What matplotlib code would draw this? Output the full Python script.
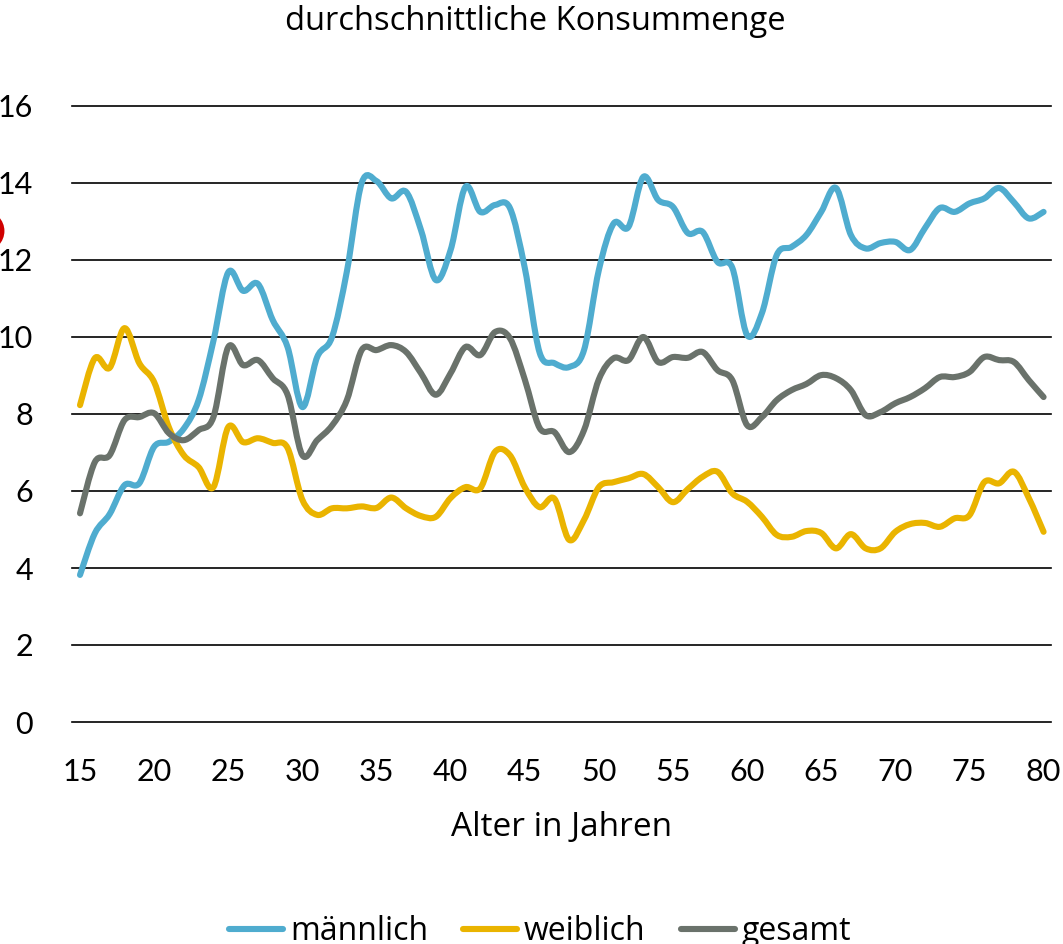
import numpy as np
import matplotlib
matplotlib.use('Agg')
import matplotlib.pyplot as plt
from matplotlib.path import Path
from matplotlib.patches import PathPatch, Ellipse
from matplotlib.lines import Line2D

plt.rcParams['font.family'] = ['Lato', 'DejaVu Sans']
WORT_FONT = ['Open Sans', 'DejaVu Sans']

# Daten: durchschnittliche Konsummenge nach Alter (15-80)
alter = list(range(15, 81))
maennlich = [3.82, 4.9, 5.4, 6.15, 6.2, 7.15, 7.28, 7.62, 8.36, 9.9,
             11.68, 11.2, 11.38, 10.44, 9.74, 8.18, 9.48, 10.0, 11.7, 14.0,
             14.05, 13.6, 13.77, 12.78, 11.48, 12.26, 13.9, 13.25, 13.43, 13.35,
             11.8, 9.6, 9.32, 9.22, 9.66, 11.74, 12.95, 12.86, 14.16, 13.56,
             13.38, 12.7, 12.73, 11.95, 11.8, 10.05, 10.62, 12.13, 12.34, 12.65,
             13.25, 13.87, 12.65, 12.3, 12.44, 12.47, 12.26, 12.83, 13.35, 13.25,
             13.47, 13.6, 13.87, 13.5, 13.08, 13.25]
weiblich = [8.23, 9.45, 9.2, 10.23, 9.32, 8.83, 7.65, 6.93, 6.62, 6.1,
            7.66, 7.27, 7.37, 7.25, 7.12, 5.77, 5.38, 5.55, 5.55, 5.6,
            5.56, 5.83, 5.55, 5.35, 5.33, 5.82, 6.1, 6.07, 7.02, 6.93,
            6.1, 5.58, 5.8, 4.73, 5.25, 6.1, 6.23, 6.33, 6.44, 6.1,
            5.71, 6.05, 6.37, 6.5, 5.94, 5.72, 5.33, 4.86, 4.81, 4.96,
            4.91, 4.51, 4.88, 4.51, 4.51, 4.94, 5.14, 5.17, 5.07, 5.29,
            5.37, 6.23, 6.2, 6.5, 5.82, 4.94]
gesamt = [5.42, 6.75, 6.93, 7.84, 7.92, 8.02, 7.5, 7.32, 7.58, 7.92,
          9.74, 9.27, 9.4, 8.93, 8.5, 6.93, 7.32, 7.7, 8.36, 9.66,
          9.66, 9.79, 9.61, 9.06, 8.5, 9.06, 9.74, 9.53, 10.13, 9.97,
          8.9, 7.64, 7.53, 7.01, 7.58, 8.9, 9.45, 9.4, 10.0, 9.35,
          9.48, 9.46, 9.61, 9.14, 8.88, 7.71, 7.92, 8.36, 8.62, 8.78,
          9.01, 8.93, 8.62, 7.97, 8.05, 8.28, 8.44, 8.67, 8.96, 8.96,
          9.09, 9.48, 9.4, 9.35, 8.88, 8.44]

serien = [('männlich', maennlich, '#4FACCF'),
          ('weiblich', weiblich, '#EAB400'),
          ('gesamt', gesamt, '#6A726B')]


def glatte_linie(x, y):
    # Bezier-Pfad wie Excel "geglättete Linie" (Catmull-Rom Tangenten)
    p = np.column_stack([x, y]).astype(float)
    ext = np.vstack([p[0], p, p[-1]])
    verts = [p[0]]
    codes = [Path.MOVETO]
    for i in range(len(p) - 1):
        c1 = ext[i + 1] + (ext[i + 2] - ext[i]) / 6.0
        c2 = ext[i + 2] - (ext[i + 3] - ext[i + 1]) / 6.0
        verts += [c1, c2, p[i + 1]]
        codes += [Path.CURVE4] * 3
    return Path(verts, codes)


W, H = 1063, 944
fig = plt.figure(figsize=(W / 100, H / 100), dpi=100)
ax = fig.add_axes([72 / W, 1 - 722 / H, (1051 - 72) / W, (722 - 106) / H])

for name, werte, farbe in serien:
    patch = PathPatch(glatte_linie(alter, werte), facecolor='none', edgecolor=farbe,
                      lw=4.4, capstyle='round', joinstyle='round', zorder=3)
    ax.add_patch(patch)

ax.set_xlim(14.46, 80.5)
ax.set_ylim(0, 16)
ax.set_xticks(range(15, 81, 5))
ax.set_yticks(range(0, 17, 2))
ax.tick_params(length=0, labelsize=22, colors='black')
ax.tick_params(axis='y', pad=28)
ax.tick_params(axis='x', pad=26)
for s in ax.spines.values():
    s.set_visible(False)
ax.yaxis.grid(True, color='black', lw=1.2)
for gl in ax.get_ygridlines():
    gl.set_clip_on(False)
ax.set_axisbelow(True)

ax.set_xlabel('Alter in Jahren', fontsize=24, labelpad=18, family=WORT_FONT)
fig.text(535 / W, 1 - 30 / H, 'durchschnittliche Konsummenge', fontsize=23.5,
         ha='center', va='baseline', family=WORT_FONT)

# roter Kreis am linken Rand (angeschnitten)
fig.add_artist(Ellipse((-16 / W, 1 - 231 / H), 36 / W, 36 / H, transform=fig.transFigure,
                       facecolor='none', edgecolor='#D00000', lw=3.5))

handles = [Line2D([], [], color=f, lw=4.4, solid_capstyle='round') for _, _, f in serien]
fig.legend(handles, [n for n, _, _ in serien], loc='center',
           bbox_to_anchor=(540 / W, 1 - 932 / H), ncol=3, frameon=False,
           prop={'family': WORT_FONT, 'size': 23},
           handlelength=1.7, handletextpad=0.2, columnspacing=1.1)

fig.savefig('out.png', dpi=100)
